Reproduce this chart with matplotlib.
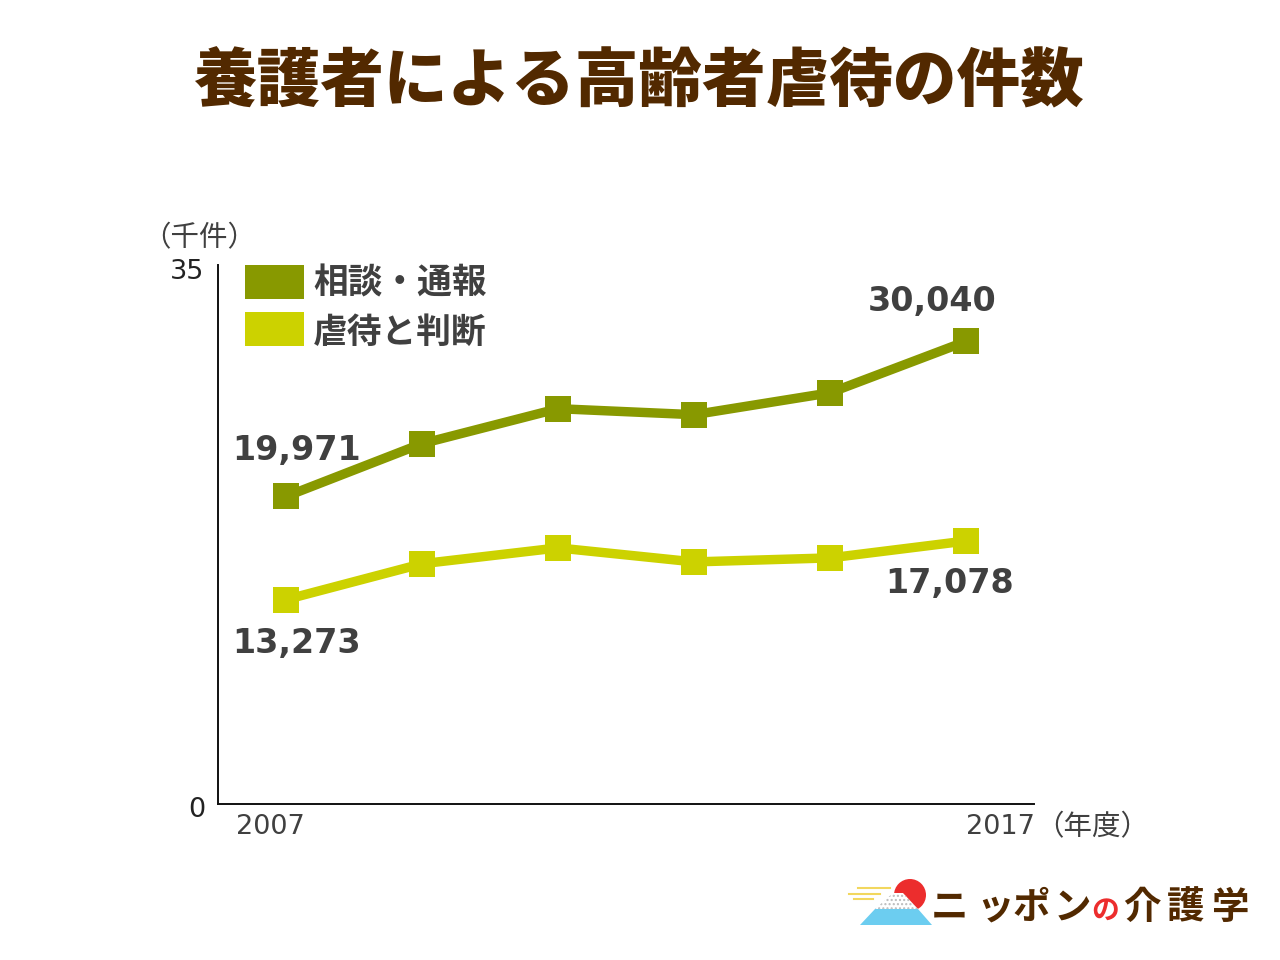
import matplotlib
matplotlib.use("Agg")
import matplotlib.pyplot as plt
from matplotlib.patches import Rectangle, Circle, Polygon

title = "養護者による高齢者虐待の件数"
years = [2007, 2009, 2011, 2013, 2015, 2017]
consult = [19.971, 23.4, 25.67, 25.28, 26.7, 30.040]
abuse = [13.273, 15.6, 16.63, 15.72, 15.98, 17.078]
series_names = ["相談・通報", "虐待と判断"]
y_labels = ["0", "35"]
x_labels = ["2007", "2017"]

JP = "Noto Sans CJK JP"
W, H = 1280, 960
BROWN = "#522900"
DARK = "#404040"
C1 = "#889900"
C2 = "#CCD200"

fig = plt.figure(figsize=(W/100, H/100), dpi=100, facecolor="white")
ax = fig.add_axes([218/W, 1-804/H, 816/W, 539/H])
xs = list(range(len(years)))
ax.plot(xs, consult, color=C1, lw=6.8, marker="s", ms=18.5, mew=0, solid_joinstyle="miter")
ax.plot(xs, abuse, color=C2, lw=6.8, marker="s", ms=18.5, mew=0, solid_joinstyle="miter")
ax.set_xlim(-0.5, 5.5)
ax.set_ylim(0, 35)
for s in ("top", "right"):
    ax.spines[s].set_visible(False)
for s in ("left", "bottom"):
    ax.spines[s].set_linewidth(1.4)
    ax.spines[s].set_color("#111111")
ax.set_xticks([])
ax.set_yticks([])

def t(x, y, s, size, color=DARK, weight="normal", ha="center", family=JP):
    fig.text(x/W, 1-y/H, s, fontsize=size, color=color, fontweight=weight,
             ha=ha, va="center", family=family)

t(638, 83, title, 45.8, BROWN, 900)
t(199, 238, "（千件）", 20.5)
t(187, 272, y_labels[1], 19.5, color="#222222", family="DejaVu Sans")
t(197, 810, y_labels[0], 19.5, color="#222222", family="DejaVu Sans")
t(270, 827, x_labels[0], 19.5, family="DejaVu Sans")
t(1001, 827, x_labels[1], 19.5, family="DejaVu Sans")
t(1092, 827, "（年度）", 20.5)

NUM = 24
t(297, 451, f"{consult[0]*1000:,.0f}", NUM, weight="bold", family="DejaVu Sans")
t(932, 302, f"{consult[-1]*1000:,.0f}", NUM, weight="bold", family="DejaVu Sans")
t(297, 643, f"{abuse[0]*1000:,.0f}", NUM, weight="bold", family="DejaVu Sans")
t(950, 583, f"{abuse[-1]*1000:,.0f}", NUM, weight="bold", family="DejaVu Sans")

fig.add_artist(Rectangle((245/W, 1-299/H), 59/W, 34/H, transform=fig.transFigure, color=C1, lw=0))
fig.add_artist(Rectangle((245/W, 1-346/H), 59/W, 34/H, transform=fig.transFigure, color=C2, lw=0))
t(400, 283, series_names[0], 25, weight="bold")
t(400, 332, series_names[1], 25, weight="bold")

# logo
ax_logo = fig.add_axes([0, 0, 1, 1], facecolor="none")
ax_logo.set_xlim(0, W); ax_logo.set_ylim(H, 0); ax_logo.axis("off")
ax_logo.add_patch(Circle((910, 895), 16, color="#EC2D2D", lw=0, zorder=1))
ax_logo.add_patch(Polygon([(875, 909), (918, 909), (903, 893), (893, 893)],
                          facecolor="white", edgecolor="#BBBBBB", hatch="....", lw=0, zorder=2))
ax_logo.add_patch(Polygon([(860, 925), (932, 925), (918, 909), (875, 909)],
                          color="#6CCDF0", lw=0, zorder=3))
for x0, x1, y in [(858, 890, 888), (849, 880, 894), (854, 873, 899)]:
    ax_logo.plot([x0, x1], [y, y], color="#F2D75E", lw=1.5, zorder=2)
for ch, cx in zip("ニッポン", [949, 995, 1031, 1072]):
    ax_logo.text(cx, 907, ch, fontsize=27, color=BROWN, weight="bold", family=JP, ha="center", va="center")
ax_logo.text(1105, 911, "の", fontsize=20, color="#EC2D2D", weight="bold", family=JP, ha="center", va="center")
for ch, cx in zip("介護学", [1142, 1186, 1231]):
    ax_logo.text(cx, 907, ch, fontsize=27, color=BROWN, weight="bold", family=JP, ha="center", va="center")

fig.savefig("out.png", dpi=100)
